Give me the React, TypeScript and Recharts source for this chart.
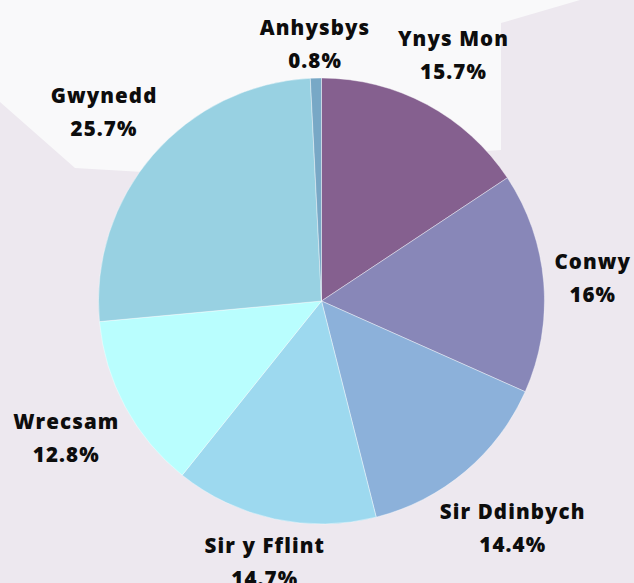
import React from "react";
import { PieChart, Pie, Cell } from "recharts";

const categories = ["Ynys Mon", "Conwy", "Sir Ddinbych", "Sir y Fflint", "Wrecsam", "Gwynedd", "Anhysbys"];
const shares = [15.7, 16, 14.4, 14.7, 12.8, 25.7, 0.8];
const colors = ["#85608f", "#8887b8", "#8cb1da", "#9dd9ef", "#b9fefe", "#98d1e2", "#78a8c6"];

const data = categories.map((name, i) => ({ name, value: shares[i] }));

const W = 634;
const H = 583;
const FONT_FAMILY = "'Open Sans', sans-serif";
const FONT_SIZE = 20.5;
const FONT_WEIGHT = 800;
const LETTER = 1.1;
const LINE_GAP = 33;
const CAP = 14;
const LABEL_GAP = 9;

let ctx: CanvasRenderingContext2D | null = null;
function measure(t: string): number {
  if (typeof document === "undefined") return t.length * 12;
  if (!ctx) ctx = document.createElement("canvas").getContext("2d");
  if (!ctx) return t.length * 12;
  ctx.font = `${FONT_WEIGHT} ${FONT_SIZE}px 'Open Sans'`;
  return ctx.measureText(t).width + LETTER * t.length;
}

const renderLabel = (props: any) => {
  const { cx, cy, midAngle, outerRadius, name, value } = props;
  const a = (midAngle * Math.PI) / 180;
  const c = Math.cos(a);
  const s = Math.sin(a);
  const l1 = name;
  const l2 = `${value}%`;
  const w = Math.max(measure(l1), measure(l2));
  const h = CAP + LINE_GAP;
  const d = outerRadius + LABEL_GAP + Math.abs(c) * (w / 2) + Math.abs(s) * (h / 2);
  const x = cx + d * c;
  const yc = cy - d * s;
  const y1 = yc - h / 2 + CAP;
  return (
    <text
      x={x}
      y={y1}
      textAnchor="middle"
      fill="#0d0d0d"
      style={{ fontFamily: FONT_FAMILY, fontWeight: FONT_WEIGHT, fontSize: FONT_SIZE, letterSpacing: LETTER }}
    >
      <tspan x={x} y={y1}>{l1}</tspan>
      <tspan x={x} y={y1 + LINE_GAP}>{l2}</tspan>
    </text>
  );
};

export default function App() {
  return (
    <div style={{ position: "fixed", left: 0, top: 0, width: W, height: H, background: "#ede8ef" }}>
      <svg width={W} height={H} style={{ position: "absolute", left: 0, top: 0 }}>
        <polygon
          points="0,0 580,0 501,23 501,150 330,162 160,173 75,168 0,102"
          fill="#f9f9fa"
        />
      </svg>
      <div style={{ position: "absolute", left: 0, top: 0 }}>
        <PieChart width={W} height={H} margin={{ top: 0, right: 0, bottom: 0, left: 0 }}>
          <Pie
            data={data}
            dataKey="value"
            nameKey="name"
            cx={321.5}
            cy={301}
            outerRadius={223}
            startAngle={90}
            endAngle={-270}
            stroke="#ffffff"
            strokeWidth={0.4}
            labelLine={false}
            label={renderLabel}
            isAnimationActive={false}
          >
            {data.map((d, i) => (
              <Cell key={d.name} fill={colors[i]} />
            ))}
          </Pie>
        </PieChart>
      </div>
    </div>
  );
}
